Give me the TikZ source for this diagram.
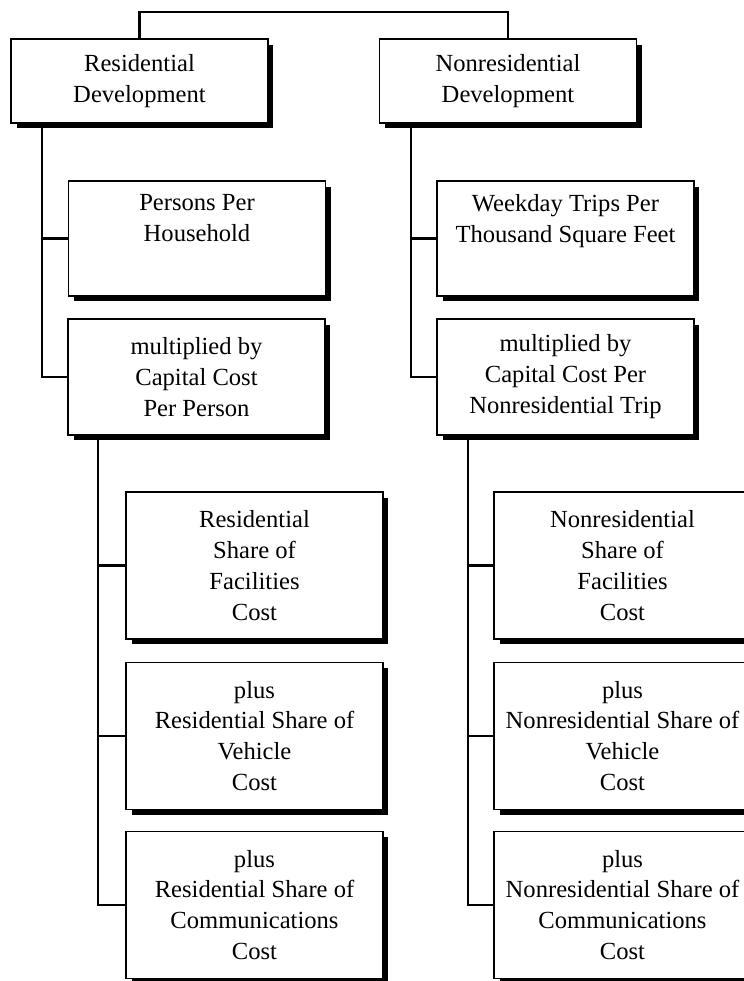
\documentclass[tikz,border=0pt]{standalone}
\usepackage{fontspec}
\setmainfont{Liberation Serif}
\usetikzlibrary{shadows}
\begin{document}
\begin{tikzpicture}[x=0.02cm,y=-0.02cm,
  every node/.style={font=\fontsize{14}{17.6}\selectfont},
  costbox/.style={draw,fill=white,line width=.8pt,align=center,minimum width=5.14cm,inner sep=2pt,
    drop shadow={shadow xshift=.11cm,shadow yshift=-.11cm,opacity=1,fill=black}},
  link/.style={line width=1.3pt}]
\useasboundingbox (0,0) rectangle (744,981);
\clip (0,0) rectangle (744,981);
\node[costbox,minimum height=1.68cm] (resdev) at (139.5,81) {Residential\\Development};
\node[costbox,minimum height=1.68cm] (nonresdev) at (508,81) {Nonresidential\\Development};
\node[costbox,minimum height=2.3cm] (persons) at (197,238.5) {Persons Per\\Household\\\strut};
\node[costbox,minimum height=2.3cm] (weekday) at (565.5,238.5) {Weekday Trips Per\\Thousand Square Feet\\\strut};
\node[costbox,minimum height=2.32cm] (mulres) at (196.5,377) {multiplied by\\Capital Cost\\Per Person};
\node[costbox,minimum height=2.32cm] (mulnon) at (565.5,377) {multiplied by\\Capital Cost Per\\Nonresidential Trip};
\node[costbox,minimum height=2.94cm] (facres) at (254.5,565.5) {Residential\\Share of\\Facilities\\Cost};
\node[costbox,minimum height=2.94cm] (vehres) at (254.5,736) {plus\\Residential Share of\\Vehicle\\Cost};
\node[costbox,minimum height=2.94cm] (comres) at (254.5,905) {plus\\Residential Share of\\Communications\\Cost};
\node[costbox,minimum height=2.94cm] (facnon) at (622.5,565.5) {Nonresidential\\Share of\\Facilities\\Cost};
\node[costbox,minimum height=2.94cm] (vehnon) at (622.5,736) {plus\\Nonresidential Share of\\Vehicle\\Cost};
\node[costbox,minimum height=2.94cm] (comnon) at (622.5,905) {plus\\Nonresidential Share of\\Communications\\Cost};
% top bracket
\coordinate (top) at (323,12);
\draw[link] (resdev.north) |- (top) -| (nonresdev.north);
% residential side
\draw[link] ([xshift=.64cm]resdev.south west) |- (persons.west);
\draw[link] ([xshift=.64cm]resdev.south west) |- (mulres.west);
\draw[link] ([xshift=.62cm]mulres.south west) |- (facres.west);
\draw[link] ([xshift=.62cm]mulres.south west) |- (vehres.west);
\draw[link] ([xshift=.62cm]mulres.south west) |- (comres.west);
% nonresidential side
\draw[link] ([xshift=.64cm]nonresdev.south west) |- (weekday.west);
\draw[link] ([xshift=.64cm]nonresdev.south west) |- (mulnon.west);
\draw[link] ([xshift=.64cm]mulnon.south west) |- (facnon.west);
\draw[link] ([xshift=.64cm]mulnon.south west) |- (vehnon.west);
\draw[link] ([xshift=.64cm]mulnon.south west) |- (comnon.west);
\end{tikzpicture}
\end{document}
